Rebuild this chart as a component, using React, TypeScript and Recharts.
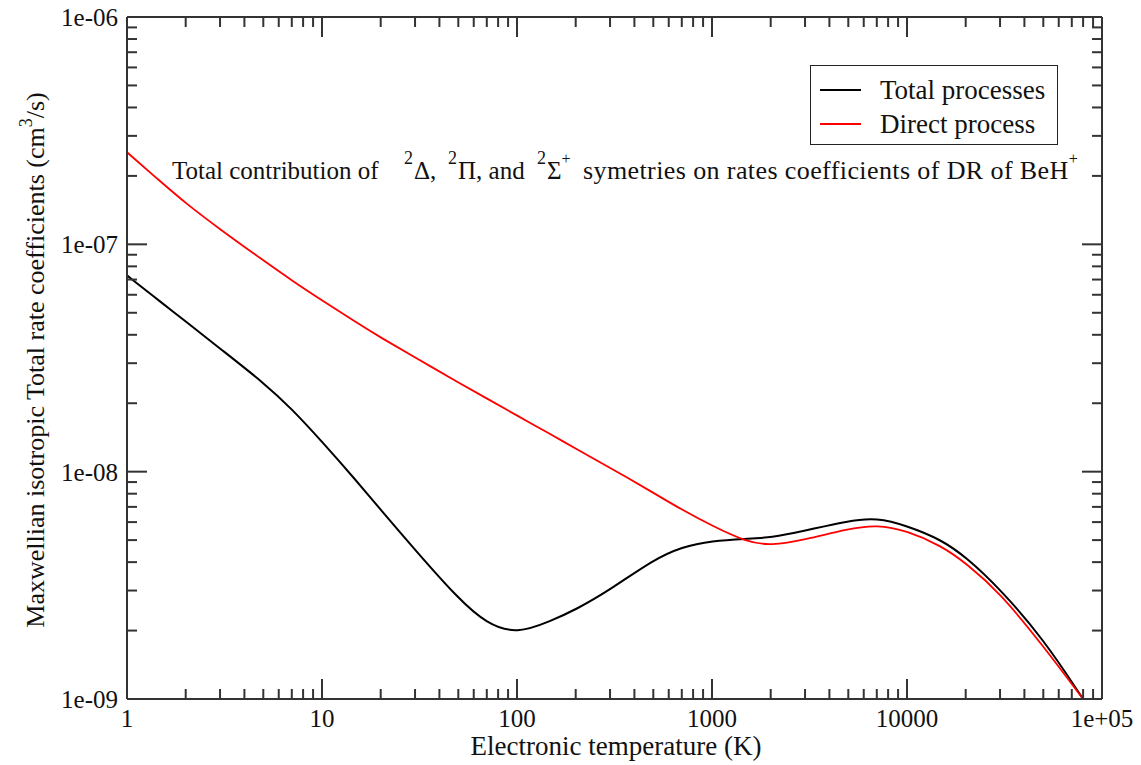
import React from 'react';
import { LineChart, Line, XAxis, YAxis, Legend } from 'recharts';

// electronic temperature (K)
const temperatures = [1, 1.5, 2, 3, 5, 7, 10, 15, 20, 30, 50, 70, 100, 150, 200, 300, 500, 700, 1000, 1500, 2000, 3000, 5000, 7000, 10000, 15000, 20000, 30000, 50000, 80000];

// rate coefficients (cm3/s)
const totalRates = [7.30e-8, 5.55e-8, 4.58e-8, 3.48e-8, 2.47e-8, 1.89e-8, 1.356e-8, 9.13e-9, 6.80e-9, 4.53e-9, 2.76e-9, 2.14e-9, 1.93e-9, 2.21e-9, 2.47e-9, 3.02e-9, 4.10e-9, 4.67e-9, 4.97e-9, 5.07e-9, 5.12e-9, 5.50e-9, 6.08e-9, 6.27e-9, 5.78e-9, 5.02e-9, 4.22e-9, 3.05e-9, 1.84e-9, 1.0e-9];
const directRates = [2.54e-7, 1.875e-7, 1.516e-7, 1.164e-7, 8.50e-8, 6.94e-8, 5.67e-8, 4.53e-8, 3.89e-8, 3.18e-8, 2.47e-8, 2.10e-8, 1.765e-8, 1.455e-8, 1.263e-8, 1.041e-8, 8.08e-9, 6.80e-9, 5.78e-9, 4.91e-9, 4.72e-9, 5.02e-9, 5.61e-9, 5.84e-9, 5.50e-9, 4.72e-9, 3.97e-9, 2.93e-9, 1.71e-9, 1.0e-9];

const xMajorTicks = [1, 10, 100, 1000, 10000, 100000];
const xTickLabels = ['1', '10', '100', '1000', '10000', '1e+05'];
const yMajorTicks = [1e-9, 1e-8, 1e-7, 1e-6];
const yTickLabels = ['1e-09', '1e-08', '1e-07', '1e-06'];
const minorSteps = [2, 3, 4, 5, 6, 7, 8, 9];

const seriesNames = ['Total processes', 'Direct process'];
const seriesColors = ['#000000', '#ff0000'];

const data = temperatures.map((t, i) => ({ t, total: totalRates[i], direct: directRates[i] }));

const withMinors = (majors: number[]) =>
  majors.flatMap((d, i) => (i < majors.length - 1 ? [d, ...minorSteps.map((m) => m * d)] : [d]));

const xTicks = withMinors(xMajorTicks);
const yTicks = withMinors(yMajorTicks);

const FONT = "'Liberation Serif', 'DejaVu Serif', serif";
const AXIS = '#333';

const majorIndex = (majors: number[], v: number) =>
  majors.findIndex((m) => Math.abs(Math.log10(v) - Math.log10(m)) < 1e-6);

// ticks point inward on all four sides, labels only on bottom / left
const bottomTick = (props: any) => {
  const { x, y, payload } = props;
  const idx = majorIndex(xMajorTicks, payload.value);
  return (
    <g>
      <line x1={x} x2={x} y1={y} y2={y - (idx >= 0 ? 20 : 10)} stroke={AXIS} strokeWidth={2} />
      {idx >= 0 && (
        <text x={x} y={y + 28} textAnchor="middle" fontFamily={FONT} fontSize={25} fill="#111">
          {xTickLabels[idx]}
        </text>
      )}
    </g>
  );
};

const topTick = (props: any) => {
  const { x, y, payload } = props;
  const idx = majorIndex(xMajorTicks, payload.value);
  return <line x1={x} x2={x} y1={y} y2={y + (idx >= 0 ? 20 : 10)} stroke={AXIS} strokeWidth={2} />;
};

const leftTick = (props: any) => {
  const { x, y, payload } = props;
  const idx = majorIndex(yMajorTicks, payload.value);
  return (
    <g>
      <line x1={x} x2={x + (idx >= 0 ? 20 : 10)} y1={y} y2={y} stroke={AXIS} strokeWidth={2} />
      {idx >= 0 && (
        <text x={x - 9} y={y + 9} textAnchor="end" fontFamily={FONT} fontSize={25} fill="#111">
          {yTickLabels[idx]}
        </text>
      )}
    </g>
  );
};

const rightTick = (props: any) => {
  const { x, y, payload } = props;
  const idx = majorIndex(yMajorTicks, payload.value);
  return <line x1={x} x2={x - (idx >= 0 ? 20 : 10)} y1={y} y2={y} stroke={AXIS} strokeWidth={2} />;
};

const renderLegend = () => (
  <div
    style={{
      position: 'relative',
      width: 248,
      height: 80,
      boxSizing: 'border-box',
      border: '1.5px solid #222',
      background: '#fff',
      fontFamily: FONT,
      fontSize: 27,
      color: '#111',
    }}
  >
    {seriesNames.map((name, i) => (
      <div key={name} style={{ position: 'absolute', left: 0, top: 24 + i * 34 - 15, height: 30, width: '100%' }}>
        <div style={{ position: 'absolute', left: 9, top: 14, width: 41, height: 2, background: seriesColors[i] }} />
        <div style={{ position: 'absolute', left: 69, top: 0, lineHeight: '30px', whiteSpace: 'nowrap' }}>{name}</div>
      </div>
    ))}
  </div>
);

export default function App() {
  return (
    <div style={{ position: 'absolute', left: 0, top: 0, width: 1141, height: 765, background: '#fff' }}>
      <LineChart width={1141} height={765} data={data} margin={{ top: 16, right: 38, bottom: 16, left: 27 }}>
        <XAxis
          dataKey="t"
          type="number"
          scale="log"
          domain={[1, 100000]}
          allowDataOverflow
          ticks={xTicks}
          interval={0}
          tickSize={0}
          tickMargin={0}
          height={50}
          tick={bottomTick}
          axisLine={{ stroke: AXIS, strokeWidth: 2 }}
        />
        <XAxis
          xAxisId="top"
          orientation="top"
          dataKey="t"
          type="number"
          scale="log"
          domain={[1, 100000]}
          allowDataOverflow
          ticks={xTicks}
          interval={0}
          tickSize={0}
          tickMargin={0}
          height={1}
          tick={topTick}
          axisLine={{ stroke: AXIS, strokeWidth: 2 }}
        />
        <YAxis
          type="number"
          scale="log"
          domain={[1e-9, 1e-6]}
          allowDataOverflow
          ticks={yTicks}
          interval={0}
          tickSize={0}
          tickMargin={0}
          width={100}
          tick={leftTick}
          axisLine={{ stroke: AXIS, strokeWidth: 2 }}
        />
        <YAxis
          yAxisId="right"
          orientation="right"
          type="number"
          scale="log"
          domain={[1e-9, 1e-6]}
          allowDataOverflow
          ticks={yTicks}
          interval={0}
          tickSize={0}
          tickMargin={0}
          width={1}
          tick={rightTick}
          axisLine={{ stroke: AXIS, strokeWidth: 2 }}
        />
        <Legend
          layout="vertical"
          align="center"
          verticalAlign="middle"
          wrapperStyle={{ top: 65, left: 810, width: 248, height: 80 }}
          content={renderLegend}
        />
        <Line type="basis" dataKey="total" name={seriesNames[0]} stroke={seriesColors[0]} strokeWidth={2} dot={false} isAnimationActive={false} />
        <Line type="basis" dataKey="direct" name={seriesNames[1]} stroke={seriesColors[1]} strokeWidth={1.8} dot={false} isAnimationActive={false} />
      </LineChart>

      {/* titles and the in-plot note */}
      <svg width={1141} height={765} style={{ position: 'absolute', left: 0, top: 0, pointerEvents: 'none' }}>
        <text x={616} y={755} textAnchor="middle" fontFamily={FONT} fontSize={27} fill="#111">
          Electronic temperature (K)
        </text>
        <text transform="translate(44,360) rotate(-90)" textAnchor="middle" fontFamily={FONT} fontSize={26} fill="#111">
          Maxwellian isotropic Total rate coefficients (cm
          <tspan dy={-12} fontSize={18}>3</tspan>
          <tspan dy={12}>/s)</tspan>
        </text>
        <text x={172} y={179} fontFamily={FONT} fontSize={25} fill="#111">
          {'Total contribution of'}
          <tspan x={404} dy={-15} fontSize={18}>2</tspan>
          <tspan x={414} dy={15}>{'Δ,'}</tspan>
          <tspan x={448} dy={-15} fontSize={18}>2</tspan>
          <tspan x={458} dy={15}>{'Π, and'}</tspan>
          <tspan x={537} dy={-15} fontSize={18}>2</tspan>
          <tspan x={547} dy={15}>Σ</tspan>
          <tspan dy={-15} fontSize={16}>+</tspan>
          <tspan x={583} dy={15} fontSize={26} letterSpacing={0.4}>{'symetries on rates coefficients of DR of BeH'}</tspan>
          <tspan dy={-15} fontSize={16}>+</tspan>
        </text>
      </svg>
    </div>
  );
}
